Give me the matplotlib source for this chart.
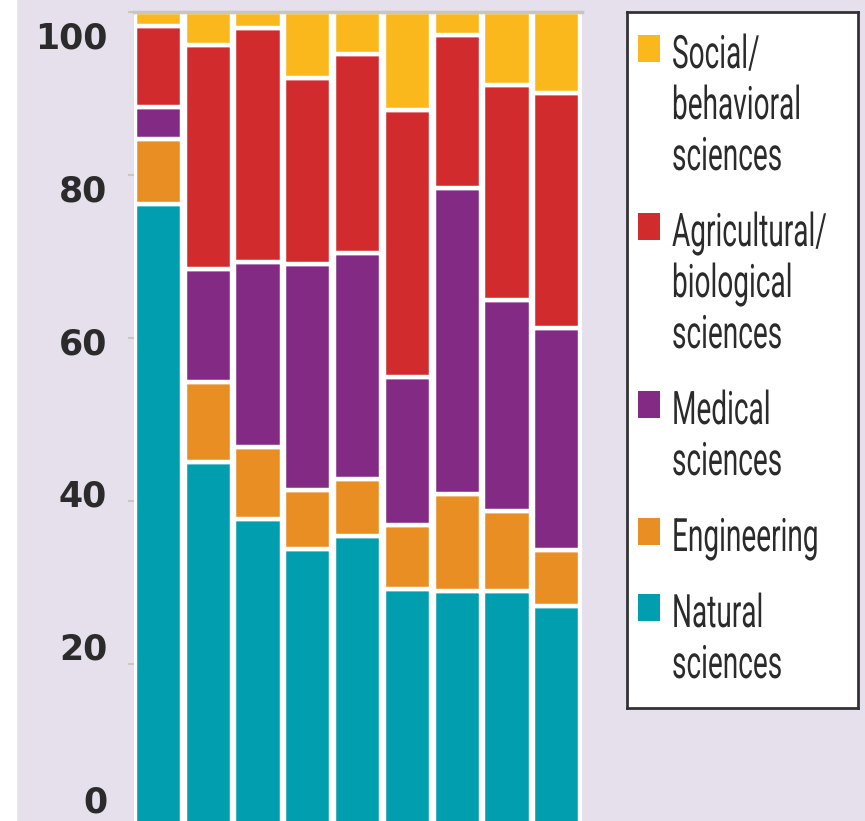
import numpy as np
import matplotlib
matplotlib.use("Agg")
import matplotlib.pyplot as plt
from matplotlib.patches import Rectangle, PathPatch
from matplotlib.textpath import TextPath
from matplotlib.font_manager import FontProperties
from matplotlib.transforms import Affine2D

# share of each field per bar (%), bottom to top
natural = [76.4, 44.8, 37.8, 34.1, 35.7, 29.2, 29.0, 29.0, 27.1]
engineering = [8.0, 9.8, 8.8, 7.2, 7.0, 7.9, 11.9, 9.8, 6.9]
medical = [3.9, 13.9, 22.7, 27.8, 27.7, 18.1, 37.5, 25.9, 27.2]
agricultural = [10.0, 27.5, 28.7, 22.8, 24.4, 32.8, 18.8, 26.3, 28.9]
social = [1.7, 4.0, 2.0, 8.1, 5.2, 12.0, 2.8, 9.0, 9.9]

series = [natural, engineering, medical, agricultural, social]
labels = ["Natural\nsciences", "Engineering", "Medical\nsciences",
          "Agricultural/\nbiological\nsciences", "Social/\nbehavioral\nsciences"]
colors = ["#009eae", "#e98e22", "#832a85", "#d12b2e", "#fbb81c"]
yticks = [0, 20, 40, 60, 80, 100]

W, H = 865, 821
BG = "#e5e0eb"
TXT = "#2b2b2b"


def condensed_text(ax, x, y, s, em_x, em_y):
    # the original uses a tall condensed face; squeeze Roboto to mimic it
    path = TextPath((0, 0), s, size=1, prop=FontProperties(family="Roboto"))
    tr = Affine2D().scale(em_x, -em_y).translate(x, y) + ax.transData
    ax.add_patch(PathPatch(path, transform=tr, facecolor=TXT, lw=0))


fig = plt.figure(figsize=(W / 100, H / 100), dpi=100, facecolor=BG)
fig.add_artist(Rectangle((0, 0), 16 / W, 1, transform=fig.transFigure,
                         color="white", zorder=-1))

# main plot area, 100% at y=12px, 0% just below the bottom edge
ax = fig.add_axes([133.6 / W, (H - 827) / H, 448 / W, 815 / H])
ax.set_facecolor("#fdfbfd")
x = np.arange(len(natural))
bottom = np.zeros(len(natural))
for vals, col in zip(series, colors):
    ax.bar(x, vals, bottom=bottom, width=0.95, color=col,
           edgecolor="white", linewidth=3.2)
    bottom += np.array(vals)

ax.set_xlim(-0.5, len(natural) - 0.5)
ax.set_ylim(0, 100)
ax.set_xticks([])
ax.set_yticks(yticks)
ax.tick_params(axis="y", left=True, right=True, labelleft=False, direction="out",
               length=4, width=1.5, color="#cdc8bd")
for side in ["left", "right", "bottom"]:
    ax.spines[side].set_visible(False)
ax.spines["top"].set_color("#c9c6bc")
ax.spines["top"].set_linewidth(2.5)

# tick labels sit a little off the tick marks in the original
lab = ax.twinx()
lab.set_ylim(-3.67, 103.0)
lab.set_yticks(yticks)
lab.yaxis.set_ticks_position("left")
lab.tick_params(axis="y", length=0, pad=19, labelsize=25, labelcolor=TXT)
for t in lab.get_yticklabels():
    t.set_fontweight("bold")
for s in lab.spines.values():
    s.set_visible(False)

# legend box drawn by hand so the swatch lines up with the first text line
leg = fig.add_axes([627 / W, (H - 708) / H, 231 / W, 696 / H])
leg.set_facecolor("white")
leg.set_xlim(0, 231)
leg.set_ylim(696, 0)
leg.set_xticks([])
leg.set_yticks([])
for s in leg.spines.values():
    s.set_color("#333333")
    s.set_linewidth(2)

line_h = 51
gap = 76
base = 56
for lbl, col in zip(labels[::-1], colors[::-1]):
    lines = lbl.split("\n")
    leg.add_patch(Rectangle((11, base - 33), 22, 27, color=col, lw=0))
    for k, ln in enumerate(lines):
        condensed_text(leg, 45, base + k * line_h, ln, 28, 46)
    base += (len(lines) - 1) * line_h + gap

fig.savefig("out.png", dpi=100, facecolor=BG)
